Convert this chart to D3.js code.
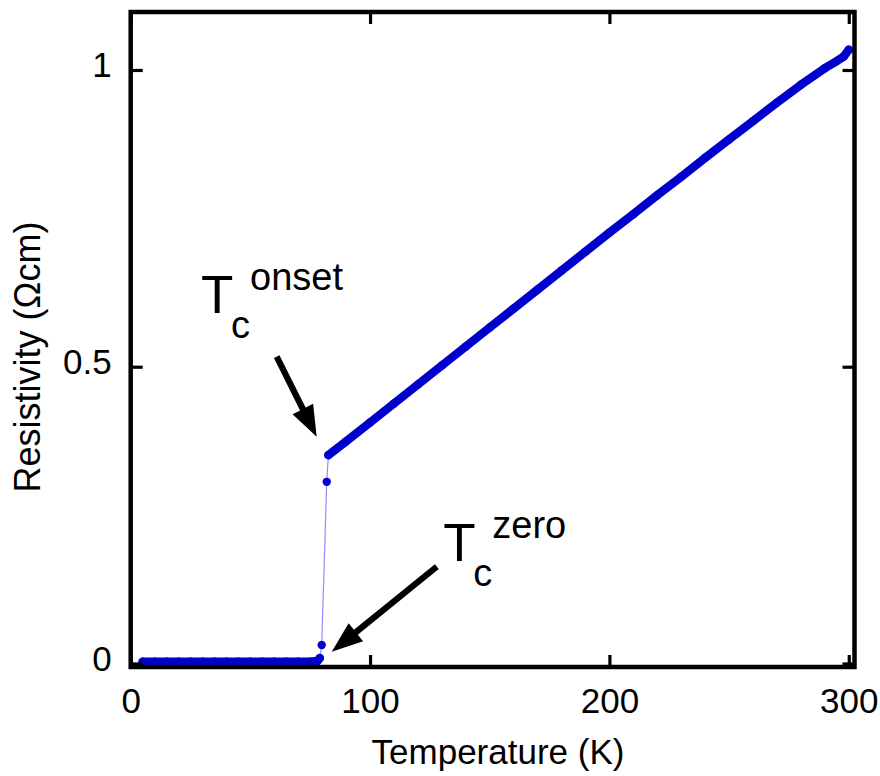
<!DOCTYPE html>
<html>
<head>
<meta charset="utf-8">
<script src="https://cdn.jsdelivr.net/npm/d3@7/dist/d3.min.js"></script>
<style>
  html, body { margin: 0; padding: 0; background: #fff; }
  svg { display: block; font-family: "Liberation Sans", Arial, sans-serif; }
</style>
</head>
<body>
<svg id="chart" width="880" height="776"></svg>
<script>
// ---- data ----
const lowTemperature = [5, 10, 15, 20, 25, 30, 35, 40, 45, 50, 55, 60, 65, 70, 75, 78, 79];
const lowResistivity = [0.003, 0.003, 0.003, 0.003, 0.003, 0.003, 0.003, 0.003, 0.003, 0.003, 0.003, 0.003, 0.003, 0.003, 0.003, 0.004, 0.009];

const transitionTemperature = [79.8, 81.9];
const transitionResistivity = [0.031, 0.306];

const highTemperature = [82.6, 90, 100, 110, 120, 130, 140, 150, 160, 170, 180, 190, 200, 210, 220, 230, 240, 250, 260, 270, 280, 290, 295, 298, 300];
const highResistivity = [0.351, 0.374, 0.406, 0.438, 0.470, 0.502, 0.534, 0.566, 0.598, 0.630, 0.662, 0.694, 0.726, 0.757, 0.789, 0.820, 0.852, 0.883, 0.914, 0.945, 0.975, 1.003, 1.015, 1.023, 1.034];

const xTicks = [0, 100, 200, 300];
const yTicks = [0, 0.5, 1];
const yTickLabels = ["0", "0.5", "1"];

const xTitle = "Temperature (K)";
const yTitle = "Resistivity (Ωcm)";

// annotation anchors in data coordinates
const annotations = [
  { sup: "onset", labelT: 29.4, labelR: 0.590, tailT: 61.0, tailR: 0.517, tipT: 77.7, tipR: 0.382 },
  { sup: "zero",  labelT: 130.6, labelR: 0.172, tailT: 127.9, tailR: 0.163, tipT: 84.0, tipR: 0.0197 }
];

// ---- layout ----
const svg = d3.select("#chart");
const plotLeft = 130.7, plotRight = 854.5, plotTop = 12, plotBottom = 667;

const x = d3.scaleLinear().domain([0, 302.4]).range([plotLeft, plotRight]);
const y = d3.scaleLinear().domain([-0.006, 1.0977]).range([plotBottom, plotTop]);

const blue = "#0000cc";
const thinBlue = "#8f8fff";
const fontFamily = "'Liberation Sans', Arial, sans-serif";

// thin connecting line through all points
const allPts = [];
lowTemperature.forEach((t, i) => allPts.push([t, lowResistivity[i]]));
transitionTemperature.forEach((t, i) => allPts.push([t, transitionResistivity[i]]));
highTemperature.forEach((t, i) => allPts.push([t, highResistivity[i]]));

const line = d3.line().x(d => x(d[0])).y(d => y(d[1]));

svg.append("path")
  .datum(allPts)
  .attr("d", line)
  .attr("fill", "none")
  .attr("stroke", thinBlue)
  .attr("stroke-width", 1.2);

// dense segments (overlapping markers appear as a thick band)
const lowPts = lowTemperature.map((t, i) => [t, lowResistivity[i]]);
const highPts = highTemperature.map((t, i) => [t, highResistivity[i]]);

[lowPts, highPts].forEach(pts => {
  svg.append("path")
    .datum(pts)
    .attr("d", line)
    .attr("fill", "none")
    .attr("stroke", blue)
    .attr("stroke-width", 8.5)
    .attr("stroke-linecap", "round")
    .attr("stroke-linejoin", "round");
});

// markers
svg.append("g").selectAll("circle")
  .data(allPts)
  .join("circle")
  .attr("cx", d => x(d[0]))
  .attr("cy", d => y(d[1]))
  .attr("r", 4.2)
  .attr("fill", blue);

// ---- axes ----
const axisG = svg.append("g");

const bottomAxis = d3.axisBottom(x).tickValues(xTicks).tickFormat(d3.format("d"))
  .tickSizeInner(-12).tickSizeOuter(0).tickPadding(21);
const topAxis = d3.axisTop(x).tickValues(xTicks).tickFormat("")
  .tickSizeInner(-12).tickSizeOuter(0);
const leftAxis = d3.axisLeft(y).tickValues(yTicks).tickFormat((d, i) => yTickLabels[i])
  .tickSizeInner(-12).tickSizeOuter(0).tickPadding(19);
const rightAxis = d3.axisRight(y).tickValues(yTicks).tickFormat("")
  .tickSizeInner(-12).tickSizeOuter(0);

const gb = axisG.append("g").attr("transform", `translate(0,${plotBottom})`).call(bottomAxis);
const gt = axisG.append("g").attr("transform", `translate(0,${plotTop})`).call(topAxis);
const gl = axisG.append("g").attr("transform", `translate(${plotLeft},0)`).call(leftAxis);
const gr = axisG.append("g").attr("transform", `translate(${plotRight},0)`).call(rightAxis);

[gb, gt, gl, gr].forEach(g => {
  g.select(".domain").remove();
  g.selectAll(".tick line").attr("stroke", "#000").attr("stroke-width", 3.2);
  g.selectAll(".tick text")
    .attr("fill", "#000")
    .attr("font-size", 35)
    .attr("font-family", fontFamily);
});
gl.selectAll(".tick text").attr("dy", "0.2em");

// frame
axisG.append("rect")
  .attr("x", plotLeft).attr("y", plotTop)
  .attr("width", plotRight - plotLeft).attr("height", plotBottom - plotTop)
  .attr("fill", "none")
  .attr("stroke", "#000")
  .attr("stroke-width", 4.5);

// axis titles
svg.append("text")
  .attr("x", 498).attr("y", 764)
  .attr("text-anchor", "middle")
  .attr("font-size", 35)
  .attr("font-family", fontFamily)
  .attr("fill", "#000")
  .text(xTitle);

svg.append("text")
  .attr("transform", "translate(40,357) rotate(-90)")
  .attr("text-anchor", "middle")
  .attr("font-size", 36)
  .attr("font-family", fontFamily)
  .attr("fill", "#000")
  .text(yTitle);

// ---- annotations ----
annotations.forEach(a => {
  const x0 = x(a.labelT), y0 = y(a.labelR);
  const g = svg.append("g").attr("font-family", fontFamily).attr("fill", "#000");
  g.append("text").attr("x", x0).attr("y", y0).attr("font-size", 53).text("T");
  g.append("text").attr("x", x0 + 30).attr("y", y0 + 25).attr("font-size", 38).text("c");
  g.append("text").attr("x", x0 + 49).attr("y", y0 - 23).attr("font-size", 38).text(a.sup);

  // arrow
  const tx = x(a.tailT), ty = y(a.tailR), hx = x(a.tipT), hy = y(a.tipR);
  const dx = hx - tx, dy = hy - ty, len = Math.hypot(dx, dy);
  const ux = dx / len, uy = dy / len, px = -uy, py = ux;
  const headLen = 31, headHalf = 11.5, shaftHalf = 3.1;
  const bx = hx - ux * headLen, by = hy - uy * headLen;
  const pts = [
    [tx + px * shaftHalf, ty + py * shaftHalf],
    [bx + px * shaftHalf, by + py * shaftHalf],
    [bx + px * headHalf, by + py * headHalf],
    [hx, hy],
    [bx - px * headHalf, by - py * headHalf],
    [bx - px * shaftHalf, by - py * shaftHalf],
    [tx - px * shaftHalf, ty - py * shaftHalf]
  ];
  svg.append("path")
    .attr("d", "M" + pts.map(p => p.join(",")).join("L") + "Z")
    .attr("fill", "#000");
});
</script>
</body>
</html>
